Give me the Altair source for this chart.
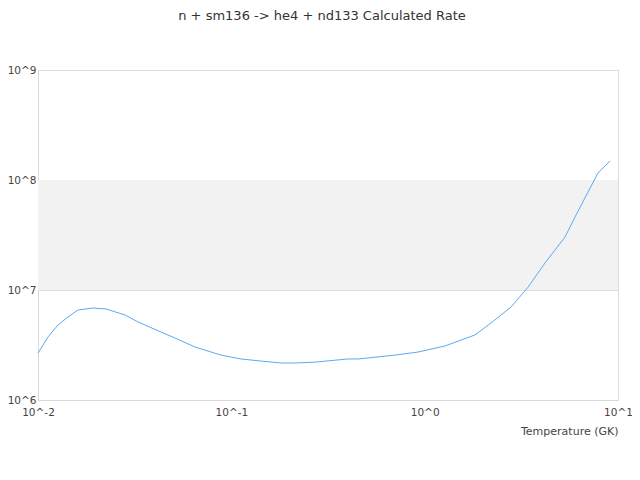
import altair as alt
import pandas as pd

temps = [0.01, 0.01127, 0.01269, 0.01429, 0.0161, 0.01925, 0.02248, 0.02818, 0.0329,
         0.04325, 0.05115, 0.06489, 0.0885, 0.1122, 0.1423, 0.1807, 0.2134, 0.2708,
         0.4009, 0.4519, 0.7027, 0.9247, 1.274, 1.82, 2.203, 2.797, 3.423, 4.191,
         5.321, 5.994, 7.88, 9.10]
rates = [2.67e6, 3.74e6, 4.81e6, 5.69e6, 6.58e6, 6.86e6, 6.72e6, 5.93e6, 5.12e6,
         4.15e6, 3.66e6, 3.03e6, 2.56e6, 2.36e6, 2.26e6, 2.17e6, 2.17e6, 2.21e6,
         2.36e6, 2.36e6, 2.56e6, 2.73e6, 3.10e6, 3.90e6, 5.01e6, 7.00e6, 1.06e7, 1.76e7,
         3.03e7, 4.61e7, 1.16e8, 1.49e8]
band_lo = [1e7]
band_hi = [1e8]

df = pd.DataFrame({"T": temps, "R": rates})
band = pd.DataFrame({"lo": band_lo, "hi": band_hi})

FONT = "DejaVu Sans"
label_expr = "'10^' + round(log(datum.value)/LN10)"

xscale = alt.Scale(type="log", domain=[0.01, 10])
yscale = alt.Scale(type="log", domain=[1e6, 1e9])

rect = alt.Chart(band).mark_rect(color="#f2f2f2").encode(
    y=alt.Y("lo:Q", scale=yscale),
    y2="hi:Q",
)

line = alt.Chart(df).mark_line(color="#5ea9f2", strokeWidth=1).encode(
    x=alt.X("T:Q", scale=xscale, title="Temperature (GK)",
            axis=alt.Axis(values=[0.01, 0.1, 1, 10], labelExpr=label_expr, grid=False,
                          ticks=False, domainColor="#d9d9d9", labelColor="#444",
                          labelFont=FONT, labelFontSize=10.5, labelPadding=7,
                          titleFont=FONT, titleFontSize=11, titleFontWeight="normal",
                          titleColor="#444", titleAnchor="end", titleAlign="right",
                          titlePadding=8, labelFlush=False)),
    y=alt.Y("R:Q", scale=yscale, title=None,
            axis=alt.Axis(values=[1e6, 1e7, 1e8, 1e9], labelExpr=label_expr, grid=True,
                          gridColor="#dedede", ticks=False, domainColor="#d9d9d9",
                          labelColor="#444", labelFont=FONT, labelFontSize=10.5,
                          labelPadding=2)),
)

chart = alt.layer(rect, line).properties(
    width=580, height=330,
    autosize=alt.AutoSizeParams(type="none"),
    padding={"left": 30, "top": 62, "right": 14, "bottom": 72},
    title=alt.TitleParams("n + sm136 -> he4 + nd133 Calculated Rate", font=FONT,
                          fontSize=13, fontWeight="normal", color="#333",
                          anchor="middle", offset=42, dx=-6),
).configure_view(stroke="#dcdcdc")

chart.save("out.html", embed_options={"renderer": "svg", "actions": False})
